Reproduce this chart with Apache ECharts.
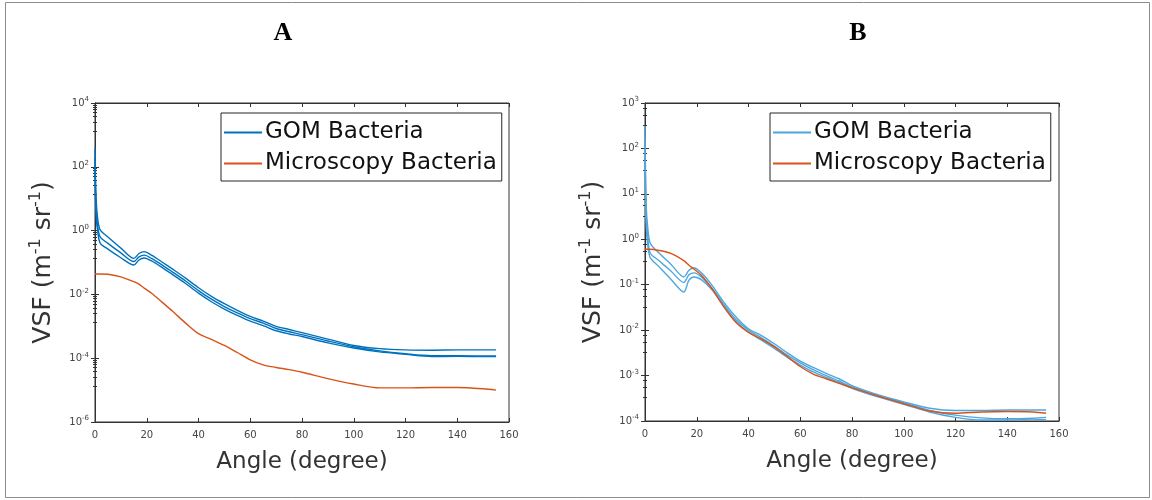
<!DOCTYPE html>
<html lang="en">
<head>
<meta charset="UTF-8"/>
<style>
  html, body { margin: 0; padding: 0; background: #fff; }
</style>
</head>
<body>
<div id="main" style="width: 1152px;height:500px;"></div>
<script src="https://cdn.jsdelivr.net/npm/echarts@6/dist/echarts.min.js"></script>
<script type="text/javascript">

// scattering angle (degree), same sampling for every curve
var angles = [0, 0.2, 0.5, 1, 2, 5, 10, 15, 17, 19, 22, 26, 30, 35, 40, 45, 50, 55, 60, 65, 70, 75, 80, 90, 100, 110, 120, 130, 140, 150, 155];

// panel A
var gomA1 = [398, 39.8, 7.94, 2.51, 1.05, 0.631, 0.282, 0.135, 0.191, 0.219, 0.166, 0.102, 0.0617, 0.0324, 0.0162, 0.00871, 0.00513, 0.00316, 0.00204, 0.00145, 0.001, 0.000794, 0.000631, 0.000398, 0.000251, 0.0002, 0.000182, 0.000178, 0.000182, 0.000182, 0.000182];
var gomA2 = [200, 20, 3.98, 1.41, 0.631, 0.398, 0.2, 0.107, 0.151, 0.17, 0.132, 0.0832, 0.0501, 0.0263, 0.0132, 0.00708, 0.00417, 0.00263, 0.00174, 0.00126, 0.000851, 0.000676, 0.00055, 0.000347, 0.000229, 0.00017, 0.000138, 0.00012, 0.00012, 0.000117, 0.000117];
var gomA3 = [100, 10, 2.51, 1.0, 0.407, 0.263, 0.141, 0.0832, 0.12, 0.138, 0.11, 0.0692, 0.0417, 0.0219, 0.011, 0.00589, 0.00347, 0.00219, 0.00145, 0.00105, 0.000724, 0.000575, 0.000479, 0.000302, 0.000209, 0.000158, 0.000132, 0.000112, 0.000115, 0.000112, 0.000112];
var microA = [0.0437, 0.0437, 0.0437, 0.0437, 0.0437, 0.0427, 0.0355, 0.0251, 0.0209, 0.0158, 0.0107, 0.00562, 0.00295, 0.00126, 0.000589, 0.000389, 0.000251, 0.000151, 8.91e-5, 6.17e-5, 5.13e-5, 4.37e-5, 3.63e-5, 2.29e-5, 1.55e-5, 1.17e-5, 1.17e-5, 1.2e-5, 1.2e-5, 1.1e-5, 1e-5];

// panel B
var gomB1 = [316, 31.6, 5.01, 2.0, 0.832, 0.525, 0.282, 0.148, 0.209, 0.234, 0.178, 0.0955, 0.0447, 0.02, 0.0107, 0.00759, 0.00501, 0.00316, 0.00209, 0.00151, 0.00112, 0.000851, 0.000603, 0.00038, 0.000263, 0.000191, 0.00017, 0.00017, 0.000174, 0.000174, 0.000174];
var gomB2 = [158, 15.8, 2.82, 1.26, 0.501, 0.355, 0.2, 0.112, 0.166, 0.182, 0.145, 0.0832, 0.0398, 0.0174, 0.01, 0.00676, 0.00447, 0.00282, 0.00191, 0.00135, 0.001, 0.000759, 0.000562, 0.000355, 0.000251, 0.00017, 0.000135, 0.000117, 0.000112, 0.000115, 0.00012];
var gomB3 = [79.4, 7.94, 1.78, 0.794, 0.398, 0.263, 0.132, 0.0692, 0.126, 0.148, 0.126, 0.0759, 0.0372, 0.0158, 0.00912, 0.00603, 0.00398, 0.00251, 0.0017, 0.0012, 0.000912, 0.000708, 0.000525, 0.000339, 0.000234, 0.000158, 0.00012, 0.000105, 0.000105, 0.00011, 0.000107];
var microB = [0.603, 0.603, 0.603, 0.603, 0.603, 0.575, 0.49, 0.339, 0.269, 0.219, 0.158, 0.0794, 0.0355, 0.0151, 0.00891, 0.00631, 0.00427, 0.00263, 0.00158, 0.00107, 0.000851, 0.000676, 0.000537, 0.000355, 0.00024, 0.000166, 0.000148, 0.000158, 0.000162, 0.000158, 0.000148];

// axis ranges
var xRange = [0, 160];
var yRangeA = [1e-6, 1e4];
var yRangeB = [1e-4, 1e3];

var blueA = '#0072BD';
var blueB = '#4FA6DC';
var orange = '#D95319';
var axisColor = '#333';
var txtFont = 'DejaVu Sans';

function pairs(xs, ys) {
    var out = [];
    for (var i = 0; i < xs.length; i++) out.push([xs[i], ys[i]]);
    return out;
}

function powLabel(v) {
    var e = Math.round(Math.log(v) / Math.LN10);
    return '10{s|' + e + '}';
}

var supRich = {
    s: { fontSize: 7, padding: [0, 0, 7, 0], color: '#444', fontFamily: txtFont }
};

function xAxisPair(gridIndex) {
    return [{
        gridIndex: gridIndex, type: 'value', min: xRange[0], max: xRange[1], interval: 20,
        name: 'Angle (degree)', nameLocation: 'middle', nameGap: 29,
        nameTextStyle: { fontFamily: txtFont, fontSize: 23, color: '#333' },
        axisLine: { lineStyle: { color: axisColor } },
        axisTick: { inside: true, length: 4, lineStyle: { color: axisColor } },
        axisLabel: { fontFamily: txtFont, fontSize: 10, color: '#444', margin: 8 },
        splitLine: { show: false }
    }, {
        gridIndex: gridIndex, type: 'value', min: xRange[0], max: xRange[1], interval: 20,
        position: 'top',
        axisLine: { lineStyle: { color: axisColor } },
        axisTick: { inside: true, length: 4, lineStyle: { color: axisColor } },
        axisLabel: { show: false },
        splitLine: { show: false }
    }];
}

function yAxisPair(gridIndex, range, step) {
    var common = {
        gridIndex: gridIndex, type: 'log', logBase: 10, min: range[0], max: range[1], interval: step,
        axisLine: { show: true, lineStyle: { color: axisColor } },
        axisTick: { show: true, inside: true, length: 4, lineStyle: { color: axisColor } },
        minorTick: { show: true, splitNumber: step * 4, length: 2, lineStyle: { color: axisColor } },
        splitLine: { show: false }
    };
    var left = echarts.util.merge({
        name: 'VSF (m{s|-1} sr{s|-1})', nameLocation: 'middle', nameGap: 37, nameRotate: 90,
        nameTextStyle: {
            fontFamily: txtFont, fontSize: 25, color: '#333',
            rich: { s: { fontSize: 16, padding: [0, 0, 14, 0], color: '#333', fontFamily: txtFont } }
        },
        axisLabel: { fontFamily: txtFont, fontSize: 10, color: '#444', margin: 6, formatter: powLabel, rich: supRich }
    }, common, true);
    var right = echarts.util.merge({ position: 'right', axisLabel: { show: false } }, common, true);
    return [left, right];
}

function lineSeries(name, data, color, xi, yi) {
    return {
        name: name, type: 'line', xAxisIndex: xi, yAxisIndex: yi,
        data: pairs(angles, data), symbol: 'none', showSymbol: false, smooth: 0.3,
        lineStyle: { color: color, width: 1.4 }, itemStyle: { color: color },
        z: name === 'GOM Bacteria' ? 2 : 3
    };
}

var myChart = echarts.init(document.getElementById('main'));

var legendCommon = {
    orient: 'vertical', top: 113, icon: 'rect', itemWidth: 38, itemHeight: 2, itemGap: 8,
    padding: [8, 5, 6, 3], borderColor: '#262626', borderWidth: 1,
    textStyle: { fontFamily: txtFont, fontSize: 23, color: '#111', lineHeight: 21, padding: [0, 0, 0, -2] }
};

var options = {
    animation: false,
    backgroundColor: '#fff',
    grid: [
        { left: 95, top: 103, width: 414, height: 319, show: true, borderColor: axisColor, borderWidth: 1 },
        { left: 645, top: 103, width: 414, height: 318, show: true, borderColor: axisColor, borderWidth: 1 }
    ],
    legend: [
        echarts.util.merge({
            left: 221,
            data: [
                { name: 'GOM Bacteria', itemStyle: { color: blueA } },
                { name: 'Microscopy Bacteria', itemStyle: { color: orange } }
            ]
        }, legendCommon, true),
        echarts.util.merge({
            left: 770,
            data: [
                { name: 'GOM Bacteria', itemStyle: { color: blueB } },
                { name: 'Microscopy Bacteria', itemStyle: { color: orange } }
            ]
        }, legendCommon, true)
    ],
    xAxis: xAxisPair(0).concat(xAxisPair(1)),
    yAxis: yAxisPair(0, yRangeA, 2).concat(yAxisPair(1, yRangeB, 1)),
    graphic: [
        { type: 'rect', shape: { x: 5.5, y: 2.5, width: 1144, height: 495 },
          style: { fill: 'none', stroke: '#8c8c8c', lineWidth: 1 }, silent: true },
        { type: 'text', x: 283, y: 33,
          style: { text: 'A', font: 'bold 26px "Liberation Serif"', fill: '#000', textAlign: 'center', textVerticalAlign: 'middle' } },
        { type: 'text', x: 858, y: 33,
          style: { text: 'B', font: 'bold 26px "Liberation Serif"', fill: '#000', textAlign: 'center', textVerticalAlign: 'middle' } }
    ],
    series: [
        lineSeries('GOM Bacteria', gomA1, blueA, 0, 0),
        lineSeries('GOM Bacteria', gomA2, blueA, 0, 0),
        lineSeries('GOM Bacteria', gomA3, blueA, 0, 0),
        lineSeries('Microscopy Bacteria', microA, orange, 0, 0),
        lineSeries('GOM Bacteria', gomB1, blueB, 2, 2),
        lineSeries('GOM Bacteria', gomB2, blueB, 2, 2),
        lineSeries('GOM Bacteria', gomB3, blueB, 2, 2),
        lineSeries('Microscopy Bacteria', microB, orange, 2, 2)
    ]
};

myChart.setOption(options);

</script>
</body>
</html>
